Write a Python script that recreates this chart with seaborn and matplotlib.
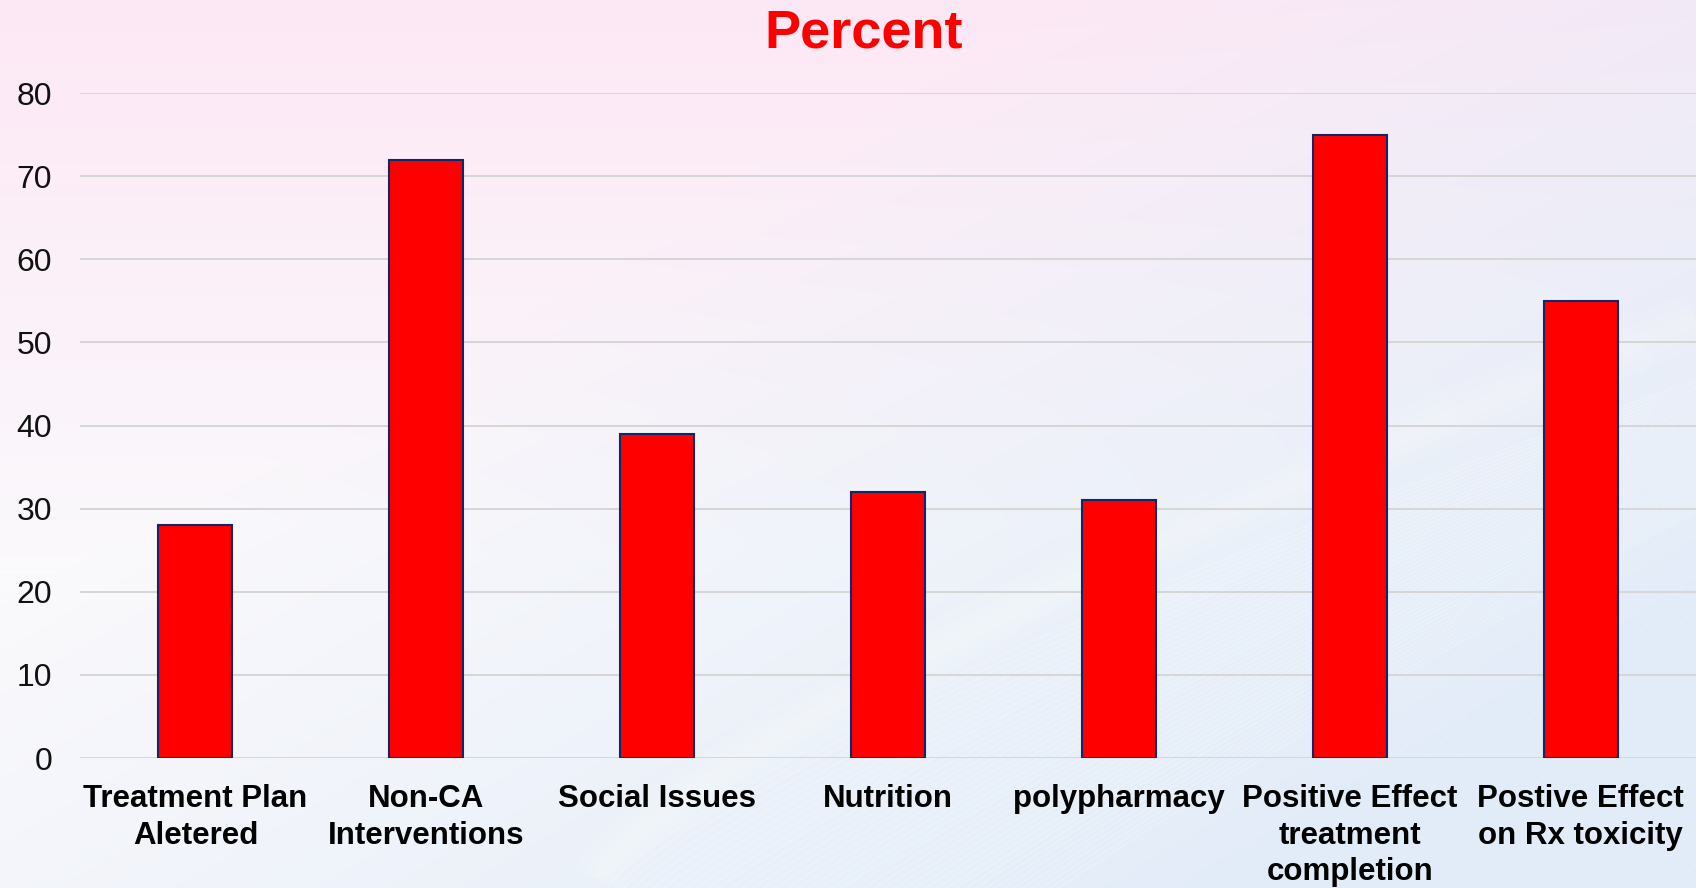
import numpy as np
import matplotlib
matplotlib.use("Agg")
import matplotlib.pyplot as plt
import seaborn as sns

categories = [
    "Treatment Plan\nAletered",
    "Non-CA\nInterventions",
    "Social Issues",
    "Nutrition",
    "polypharmacy",
    "Positive Effect\ntreatment\ncompletion",
    "Postive Effect\non Rx toxicity",
]
percent = [28, 72, 39, 32, 31, 75, 55]
y_ticks = [0, 10, 20, 30, 40, 50, 60, 70, 80]
title_text = "Percent"

sns.set_theme(style="white")
plt.rcParams["font.family"] = ["Liberation Sans", "DejaVu Sans"]

W, H = 1696, 888
fig = plt.figure(figsize=(W / 100, H / 100), dpi=100)

# --- slide-style background: pink at the top fading to pale blue lower right
bg = fig.add_axes([0, 0, 1, 1], zorder=-10)
yy, xx = np.mgrid[0:H, 0:W]
fy = yy / H
fx = xx / W
pink = np.array([253, 232, 245]) / 255
white = np.array([250, 249, 252]) / 255
blue = np.array([226, 236, 248]) / 255
wp = np.clip(1 - fy * 1.6, 0, 1)[..., None]
wb = np.clip((fx * 0.9 + fy * 0.8 - 0.55) * 1.1, 0, 1)[..., None]
img = white * (1 - wp) + pink * wp
img = img * (1 - wb) + blue * wb
bg.imshow(img, extent=[0, W, H, 0], aspect="auto", interpolation="bilinear")

# soft white streaks sweeping up to the right
x_start = 600
xs = np.linspace(x_start, W, 400)
u = (xs - x_start) / (W - x_start)
for k in range(45):
    base = 900 + k * 9
    lift = 520 + k * 6
    ys = base - lift * u ** 0.75
    bg.plot(xs, ys, color="white", lw=1.1, alpha=0.22)
# a diffuse brighter band along the crest of the sweep
ys_band = 880 - 560 * u ** 0.75
for lw, a in [(40, 0.08), (24, 0.10), (12, 0.12)]:
    bg.plot(xs, ys_band, color="white", lw=lw, alpha=a, solid_capstyle="butt")
for k in range(30):
    x0 = 750 + k * 33
    ys2 = np.linspace(H, 300, 50)
    bg.plot(x0 + (H - ys2) * 0.9, ys2, color="white", lw=0.8, alpha=0.12)
bg.set_xlim(0, W)
bg.set_ylim(H, 0)
bg.axis("off")

# --- bar chart
left, bottom_px, top_px = 80, 758, 93
ax = fig.add_axes([left / W, 1 - bottom_px / H, 1 - left / W, (bottom_px - top_px) / H])
ax.set_facecolor("none")
sns.barplot(
    x=categories, y=percent, ax=ax, color="#ff0000", saturation=1,
    width=0.32, edgecolor="#0d2868", linewidth=1.5, zorder=3,
)
ax.set_ylim(0, 80)
ax.set_xlim(-0.5, len(categories) - 0.5)
ax.set_yticks(y_ticks)
ax.yaxis.grid(True, color="#d6d6d6", linewidth=1.4, zorder=0)
ax.set_axisbelow(True)
for s in ax.spines.values():
    s.set_visible(False)
ax.tick_params(axis="y", length=0, pad=20, labelsize=23, labelcolor="#111111")
ax.tick_params(axis="x", length=0, pad=19)
for lab in ax.get_xticklabels():
    lab.set_fontsize(22.5)
    lab.set_fontweight("bold")
    lab.set_color("#000000")
    lab.set_linespacing(1.27)
    lab.set_multialignment("center")
ax.set_xlabel("")
ax.set_ylabel("")

fig.text(864 / W, 1 - 48 / H, title_text, color="#ff0000", fontsize=39,
         fontweight="bold", ha="center", va="baseline")

fig.savefig("out.png", dpi=100)
